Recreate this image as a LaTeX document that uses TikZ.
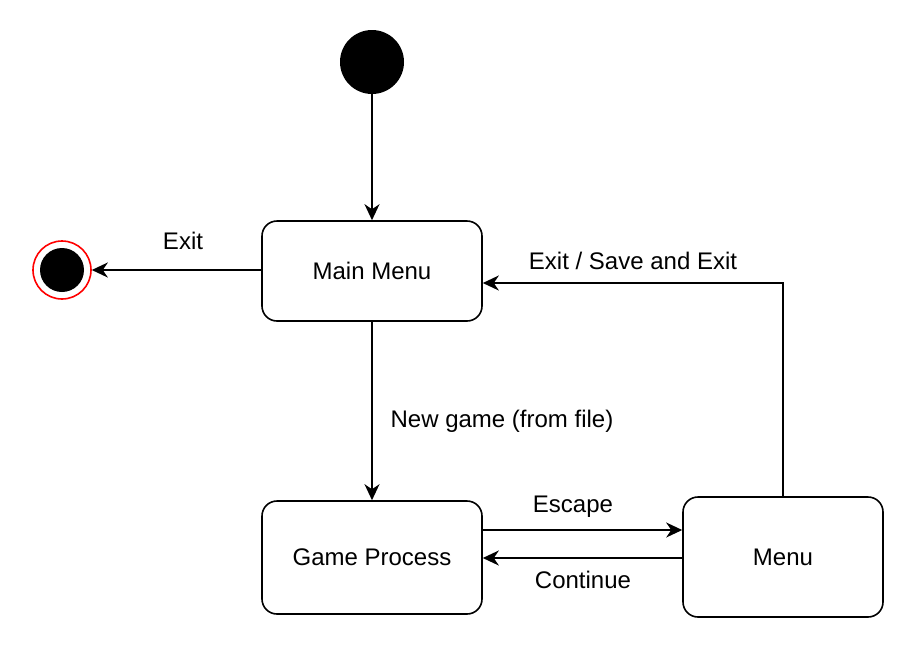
\documentclass[tikz,border=0pt]{standalone}
\usepackage{fontspec}
\setmainfont{Liberation Sans}
\usetikzlibrary{arrows.meta}
\begin{document}
\begin{tikzpicture}[x=1pt,y=-1pt,
  state/.style={draw, line width=1.6pt, rounded corners=15pt, fill=white, inner sep=0pt, font=\fontsize{24}{28}\selectfont},
  lbl/.style={font=\fontsize{24}{28}\selectfont, inner sep=0pt},
  conn/.style={line width=1.6pt, -{Stealth[length=16pt,width=15pt,inset=5pt]}}]
\useasboundingbox (0,0) rectangle (918,670);
\node[circle, fill=black, minimum size=64pt, inner sep=0pt] (start) at (372,62) {};
\node[state, minimum width=220pt, minimum height=100pt] (main) at (372,271) {Main Menu};
\node[state, minimum width=220pt, minimum height=113pt] (game) at (372,557.5) {Game Process};
\node[state, minimum width=200pt, minimum height=120pt] (menu) at (783,557) {Menu};
\node[circle, draw=red, line width=1.6pt, fill=white, minimum size=58pt, inner sep=0pt] (final) at (62,270) {};
\node[circle, fill=black, minimum size=44pt, inner sep=0pt] (finalin) at (62,270) {};
\coordinate (mm1) at (main.west |- 0,270);
\coordinate (g1) at (game.east |- 0,530);
\coordinate (m1) at (menu.west |- 0,530);
\coordinate (m2) at (menu.west |- 0,558);
\coordinate (g2) at (game.east |- 0,558);
\coordinate (corner) at (783,283);
\coordinate (mme) at (main.east |- 0,283);
\draw[conn] (start.south) -- (main.north);
\draw[conn] (mm1) -- (final.east);
\draw[conn] (main.south) -- (game.north);
\draw[conn] (g1) -- (m1);
\draw[conn] (m2) -- (g2);
\draw[conn] (menu.north) -- (corner) -- (mme);
\node[lbl] (lexit) at (183,241) {Exit};
\node[lbl] (lnew) at (502,421) {New game (from file)};
\node[lbl] (lesc) at (573,507) {Escape};
\node[lbl] (lcont) at (583,580) {Continue};
\node[lbl] (lsave) at (633,261) {Exit / Save and Exit};
\end{tikzpicture}
\end{document}
